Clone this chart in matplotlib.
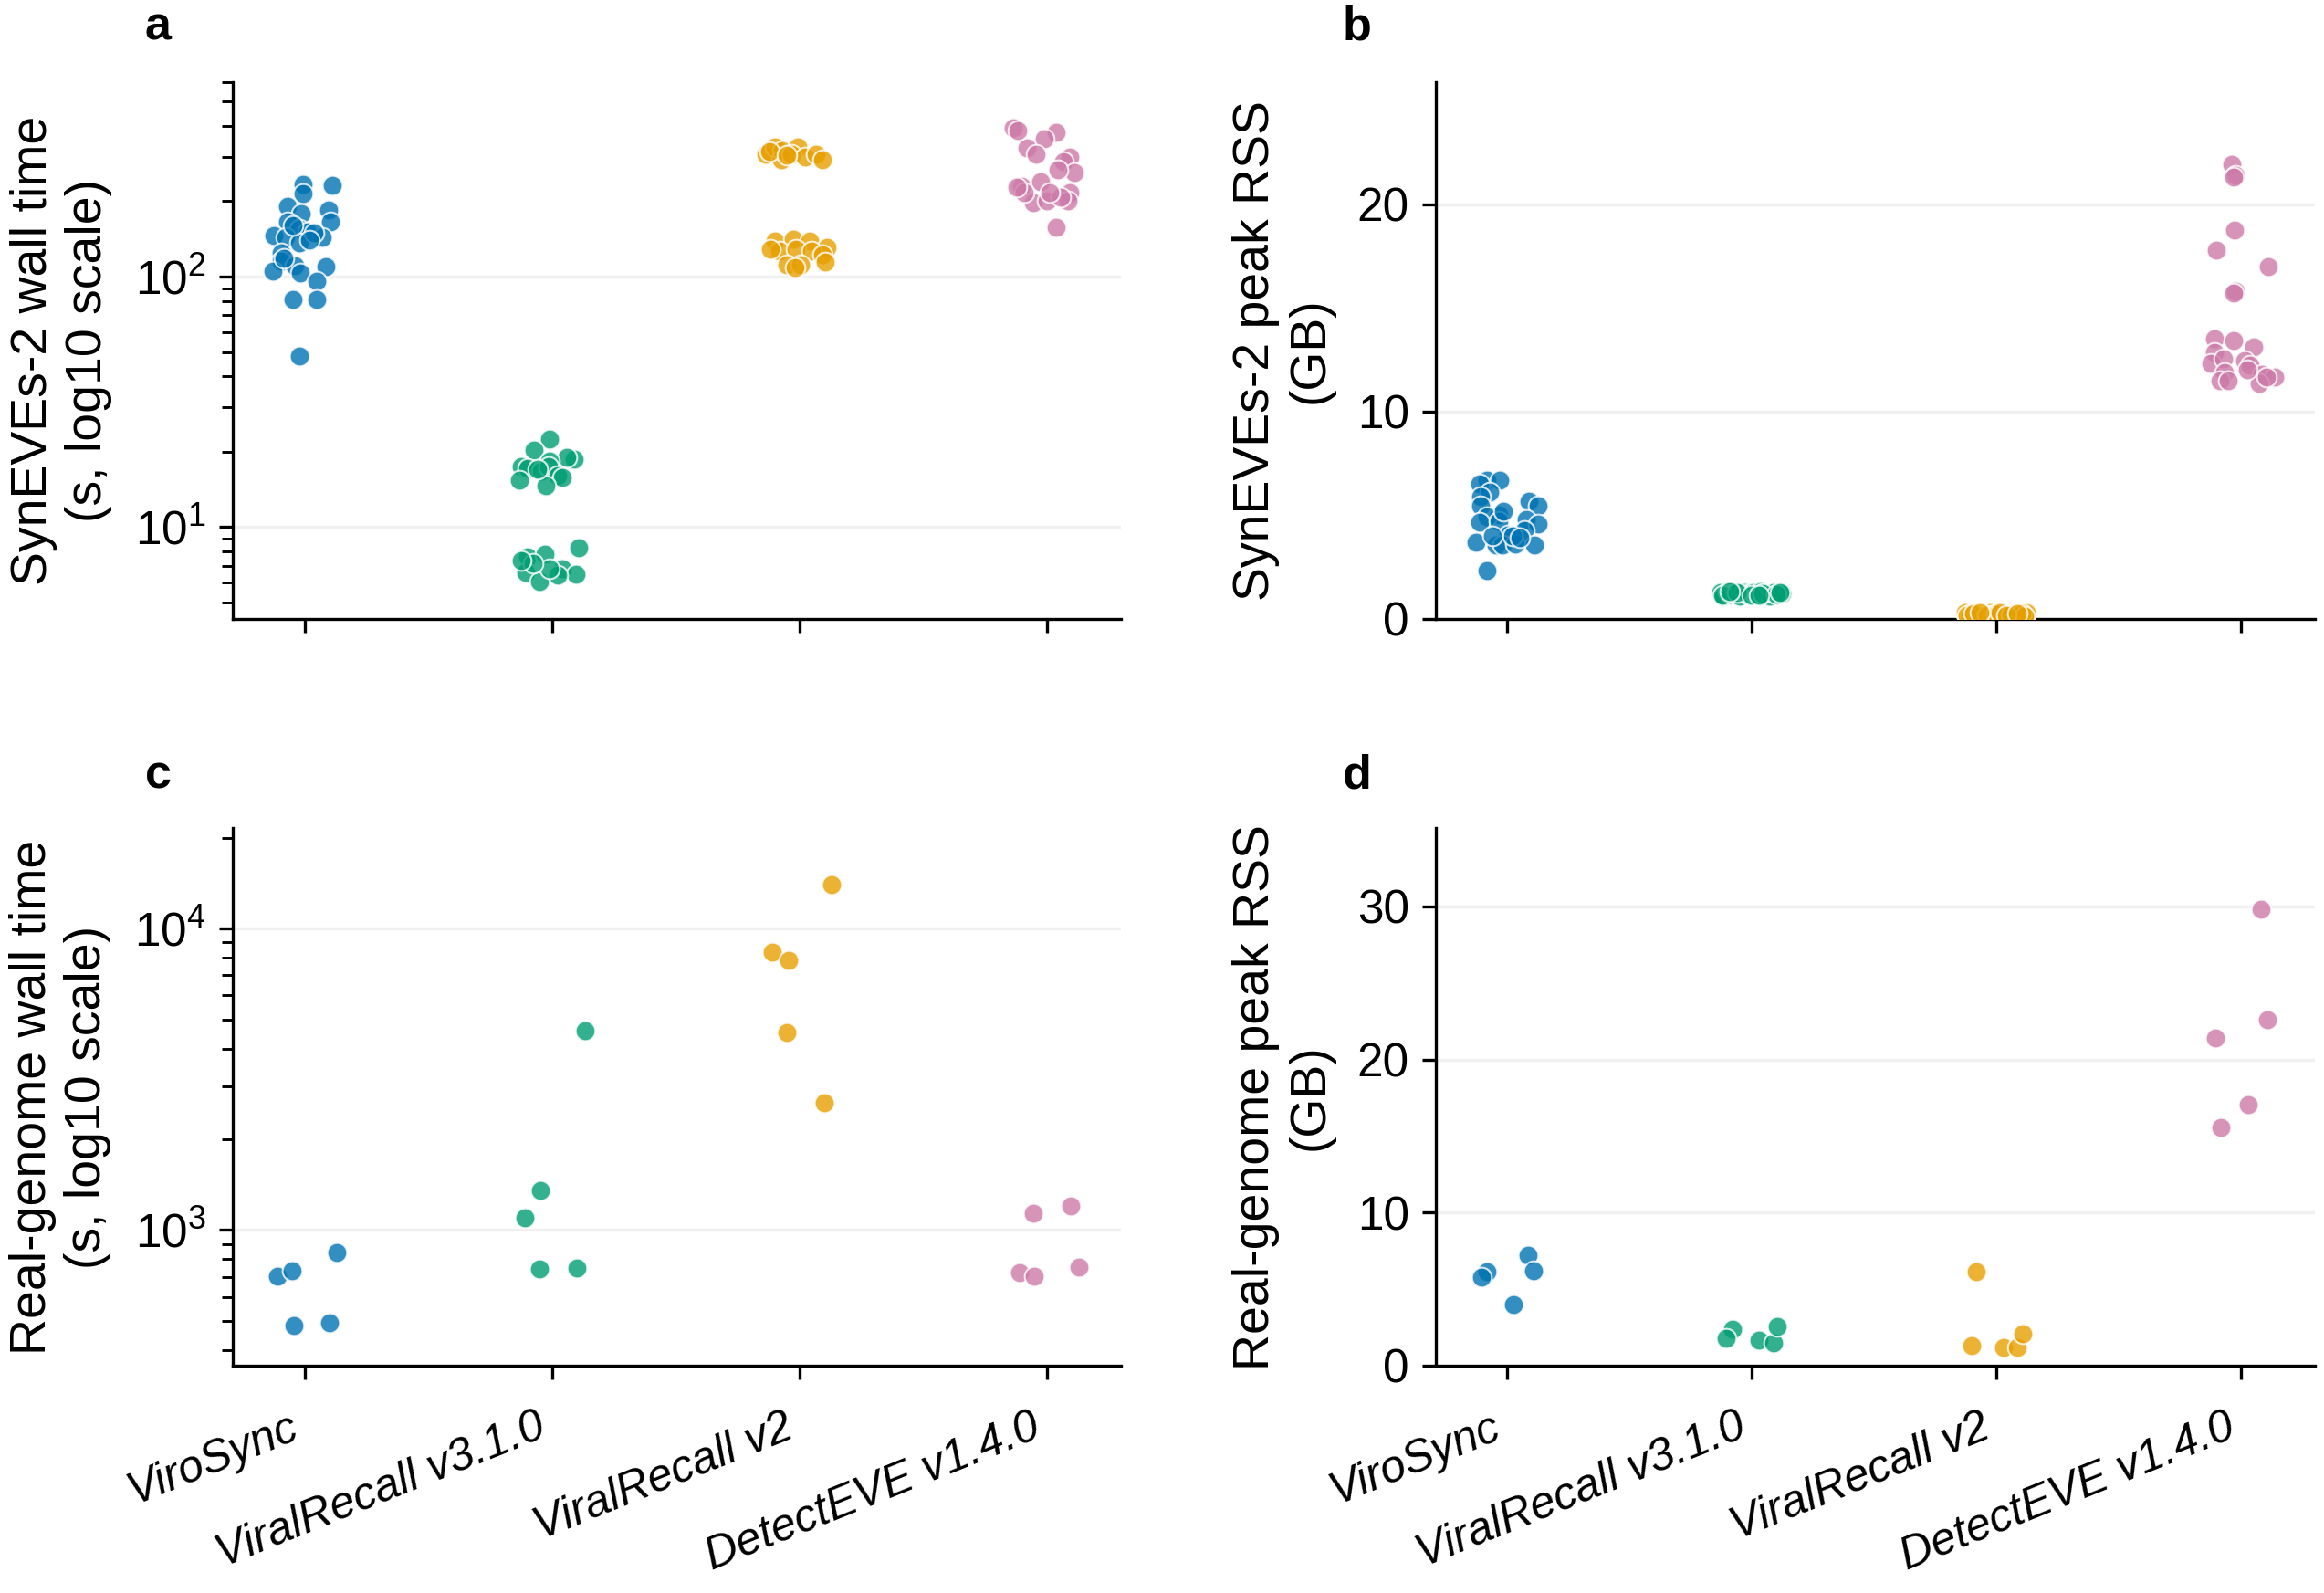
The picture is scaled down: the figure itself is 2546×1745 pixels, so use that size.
import matplotlib
matplotlib.use("Agg")
import matplotlib.pyplot as plt
from matplotlib.ticker import LogLocator, NullFormatter
from matplotlib.transforms import ScaledTranslation

plt.rcParams['font.family'] = ['Liberation Sans', 'DejaVu Sans']

tools = ["ViroSync", "ViralRecall v3.1.0", "ViralRecall v2", "DetectEVE v1.4.0"]
colors = ["#0072B2", "#009E73", "#E69F00", "#CC79A7"]

# ---- Panel a: SynEVEs-2 wall time (s) ----
a_virosync = [233, 214, 232, 191, 179, 184, 166, 166, 155, 151, 146, 143, 143, 137,
              124, 115, 105, 111, 103, 110, 96, 81, 81, 48, 150, 160, 140, 118]
a_virosync_dx = [-0.007, -0.007, 0.112, -0.07, -0.014, 0.097, 0.103, -0.069, -0.021, 0.011,
                 -0.125, -0.079, 0.069, -0.023, -0.097, -0.097, -0.128, -0.042, -0.017, 0.087,
                 0.047, -0.048, 0.047, -0.021, 0.038, -0.048, 0.02, -0.085]
a_vr31 = [22.4, 20.3, 18.6, 18.9, 18.4, 17.4, 17.1, 16.7, 17.4, 16.0, 15.7, 15.3, 14.6, 17.0,
          8.25, 7.59, 7.75, 6.81, 6.49, 6.59, 6.05, 6.40, 6.78, 7.17, 7.36]
a_vr31_dx = [-0.011, -0.074, 0.09, 0.059, -0.011, -0.125, -0.10, -0.045, -0.015, 0.022,
             0.041, -0.133, -0.025, -0.058,
             0.108, -0.10, -0.03, 0.041, 0.096, -0.107, -0.052, 0.022, -0.009, -0.077, -0.125]
a_vr2 = [309, 331, 292, 318, 331, 309, 301, 309, 292, 316, 306,
         139, 141, 139, 131, 126, 129, 126, 122, 112, 112, 114, 109, 129]
a_vr2_dx = [-0.136, -0.099, -0.074, -0.068, -0.007, -0.031, 0.024, 0.067, 0.095, -0.12, -0.05,
            -0.099, -0.025, 0.042, 0.11, -0.08, -0.013, 0.049, 0.092, -0.05, 0.005, 0.103, -0.019, -0.117]
a_detect = [393, 376, 356, 327, 309, 301, 288, 261, 268, 230, 240, 217, 197, 200, 200,
            217, 157, 227, 208, 217, 383]
a_detect_dx = [-0.134, 0.038, -0.011, -0.081, -0.042, 0.093, 0.069, 0.112, 0.044, -0.103,
               -0.024, 0.093, -0.054, 0.001, 0.087, -0.091, 0.038, -0.122, 0.056, 0.012, -0.116]

# ---- Panel b: SynEVEs-2 peak RSS (GB) ----
b_virosync = [6.70, 6.66, 6.48, 6.11, 5.89, 5.67, 5.45, 5.45, 5.01, 4.93, 4.79, 4.56, 4.64,
              4.71, 4.27, 4.05, 3.68, 3.53, 3.53, 3.60, 3.56, 2.32, 3.97, 3.97, 5.19, 3.90]
b_virosync_dx = [-0.083, -0.031, -0.113, -0.07, -0.108, 0.089, 0.126, -0.108, -0.034, -0.083,
                 0.076, 0.126, -0.113, -0.034, 0.07, 0.003, -0.126, -0.046, -0.021, 0.034,
                 0.113, -0.083, 0.021, -0.059, -0.016, 0.052]
b_vr31 = [1.24, 1.10, 1.30, 1.18, 1.22, 1.08, 1.28, 1.15, 1.25, 1.12, 1.30, 1.20,
          1.09, 1.26, 1.17, 1.23, 1.11, 1.27, 1.14, 1.21, 1.19, 1.29, 1.13, 1.24]
b_vr31_dx = [-0.129, -0.115, -0.098, -0.085, -0.068, -0.05, -0.031, -0.015, 0.006, 0.02,
             0.037, 0.055, 0.074, 0.09, 0.108, 0.123, -0.12, -0.06, 0.0, 0.045, 0.1, -0.09,
             0.03, 0.115]
b_vr2 = [0.28, 0.18, 0.24, 0.12, 0.30, 0.20, 0.15, 0.26, 0.22, 0.10, 0.29, 0.17,
         0.25, 0.14, 0.21, 0.27, 0.19, 0.23, 0.13, 0.28, 0.16, 0.24]
b_vr2_dx = [-0.129, -0.11, -0.08, -0.06, -0.025, -0.01, 0.031, 0.05, 0.074, 0.09, 0.123,
            -0.12, -0.095, -0.04, 0.0, 0.015, 0.06, 0.105, 0.115, -0.07, 0.04, 0.085]
b_detect = [21.92, 21.4, 21.3, 18.74, 17.78, 16.97, 15.79, 15.72, 13.5, 13.42, 13.13, 12.84,
            12.32, 12.54, 12.46, 12.24, 11.87, 11.8, 11.65, 11.5, 11.5, 11.36, 11.65, 12.0]
b_detect_dx = [-0.037, -0.025, -0.03, -0.028, -0.104, 0.111, -0.025, -0.03, -0.111, -0.031,
               0.049, -0.111, -0.123, -0.074, 0.012, 0.037, -0.068, 0.086, 0.135, -0.087,
               -0.055, 0.074, 0.104, 0.025]

# ---- Panel c: Real-genome wall time (s) ----
c_virosync = [705, 735, 483, 493, 840]
c_virosync_dx = [-0.111, -0.051, -0.045, 0.099, 0.129]
c_vr31 = [4590, 1355, 1096, 741, 747]
c_vr31_dx = [0.132, -0.048, -0.111, -0.051, 0.099]
c_vr2 = [13970, 8360, 7850, 4520, 2640]
c_vr2_dx = [0.129, -0.111, -0.045, -0.051, 0.099]
c_detect = [1138, 1206, 723, 702, 753]
c_detect_dx = [-0.054, 0.099, -0.108, -0.051, 0.132]

# ---- Panel d: Real-genome peak RSS (GB) ----
d_virosync = [6.12, 5.80, 7.19, 6.23, 3.99]
d_virosync_dx = [-0.084, -0.105, 0.087, 0.108, 0.027]
d_vr31 = [2.38, 1.78, 1.64, 1.49, 2.56]
d_vr31_dx = [-0.081, -0.105, 0.03, 0.087, 0.105]
d_vr2 = [6.12, 1.32, 1.21, 1.21, 2.10]
d_vr2_dx = [-0.084, -0.102, 0.03, 0.084, 0.108]
d_detect = [29.82, 22.6, 21.42, 17.08, 15.59]
d_detect_dx = [0.081, 0.105, -0.105, 0.027, -0.084]

b_yticks = [0, 10, 20]
d_yticks = [0, 10, 20, 30]

panels = [
    ("a", [a_virosync, a_vr31, a_vr2, a_detect],
     [a_virosync_dx, a_vr31_dx, a_vr2_dx, a_detect_dx],
     "SynEVEs-2 wall time\n(s, log10 scale)", True, (4.3, 600), None),
    ("b", [b_virosync, b_vr31, b_vr2, b_detect],
     [b_virosync_dx, b_vr31_dx, b_vr2_dx, b_detect_dx],
     "SynEVEs-2 peak RSS\n(GB)", False, (0, 25.9), b_yticks),
    ("c", [c_virosync, c_vr31, c_vr2, c_detect],
     [c_virosync_dx, c_vr31_dx, c_vr2_dx, c_detect_dx],
     "Real-genome wall time\n(s, log10 scale)", True, (355, 21500), None),
    ("d", [d_virosync, d_vr31, d_vr2, d_detect],
     [d_virosync_dx, d_vr31_dx, d_vr2_dx, d_detect_dx],
     "Real-genome peak RSS\n(GB)", False, (0, 35.1), d_yticks),
]

fig = plt.figure(figsize=(2546 / 300, 1745 / 300), dpi=300)
rects = [
    [0.1003, 0.6117, 0.382, 0.3369],
    [0.6180, 0.6117, 0.378, 0.3369],
    [0.1003, 0.1427, 0.382, 0.3373],
    [0.6180, 0.1427, 0.378, 0.3373],
]
letter_pos = [(0.068, 0.983), (0.584, 0.983), (0.068, 0.513), (0.584, 0.513)]
label_shift = ScaledTranslation(-4.3 / 72, -3.5 / 72, fig.dpi_scale_trans)

for k, (letter, vals, dxs, ylab, logy, ylim, yt) in enumerate(panels):
    ax = fig.add_axes(rects[k])
    for i, (v, dx) in enumerate(zip(vals, dxs)):
        ax.scatter([i + d for d in dx], v, s=27, color=colors[i], alpha=0.8,
                   edgecolor="white", linewidth=0.5, zorder=3)
    if logy:
        ax.set_yscale("log")
        ax.yaxis.set_minor_locator(LogLocator(base=10, subs=range(2, 10)))
        ax.yaxis.set_minor_formatter(NullFormatter())
    else:
        ax.set_yticks(yt)
    ax.set_ylim(*ylim)
    ax.set_xlim(-0.29, 3.3)
    ax.set_xticks(range(4))
    ax.grid(axis="y", which="major", color="#f0f0f0", linewidth=0.8, zorder=0)
    ax.set_axisbelow(True)
    for s in ("top", "right"):
        ax.spines[s].set_visible(False)
    for s in ("left", "bottom"):
        ax.spines[s].set_linewidth(0.8)
    ax.tick_params(axis="both", which="major", length=3.6, width=0.8, labelsize=12.3)
    ax.tick_params(axis="y", which="minor", length=2.8, width=0.7)
    if k >= 2:
        labels = ax.set_xticklabels(tools, rotation=22, ha="right", rotation_mode="anchor",
                                    fontstyle="italic", fontsize=11.9)
        for lab in labels:
            lab.set_transform(lab.get_transform() + label_shift)
    else:
        ax.set_xticklabels([])
    ax.set_ylabel(ylab, fontsize=13.3, labelpad=6)
    fig.text(letter_pos[k][0], letter_pos[k][1], letter, fontsize=12.5,
             fontweight="bold", ha="center", va="center")

fig.savefig("out.png", dpi=300)
